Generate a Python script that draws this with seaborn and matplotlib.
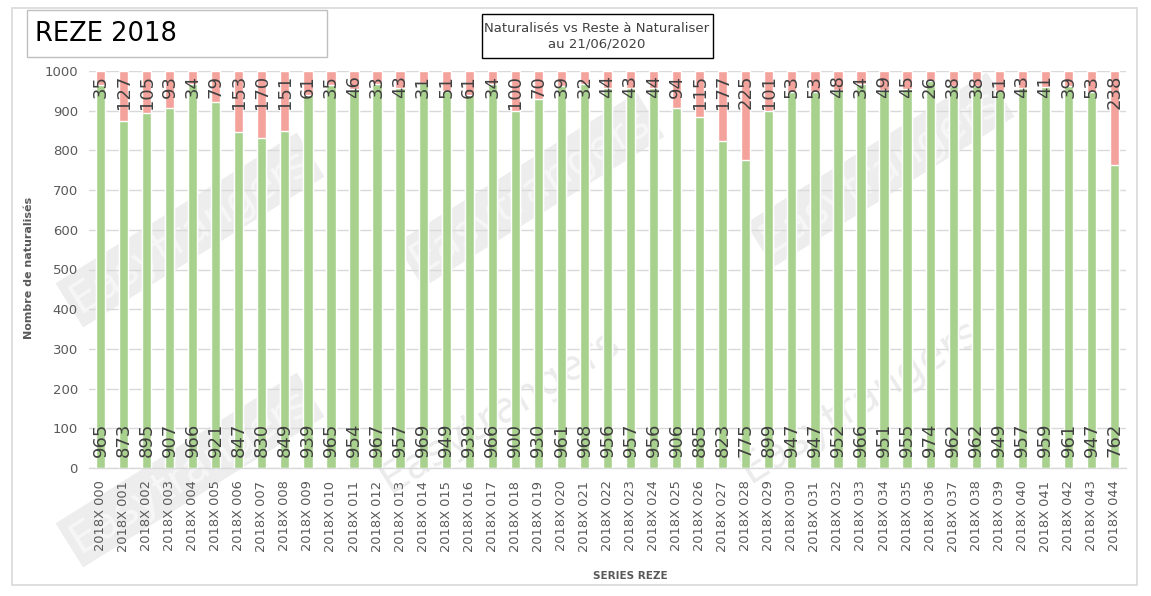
import matplotlib
matplotlib.use("Agg")
import matplotlib.pyplot as plt
import seaborn as sns
import numpy as np
import pandas as pd
from matplotlib.patches import Rectangle

categories = ["2018X %03d" % i for i in range(45)]
naturalises = [965, 873, 895, 907, 966, 921, 847, 830, 849, 939,
               965, 954, 967, 957, 969, 949, 939, 966, 900, 930,
               961, 968, 956, 957, 956, 906, 885, 823, 775, 899,
               947, 947, 952, 966, 951, 955, 974, 962, 962, 949,
               957, 959, 961, 947, 762]
reste = [35, 127, 105, 93, 34, 79, 153, 170, 151, 61,
         35, 46, 33, 43, 31, 51, 61, 34, 100, 70,
         39, 32, 44, 43, 44, 94, 115, 177, 225, 101,
         53, 53, 48, 34, 49, 45, 26, 38, 38, 51,
         43, 41, 39, 53, 238]
yticks = [0, 100, 200, 300, 400, 500, 600, 700, 800, 900, 1000]

df = pd.DataFrame({"serie": categories, "nat": naturalises, "reste": reste})
df["total"] = df["nat"] + df["reste"]

sns.set_theme(style="white")
plt.rcParams["font.family"] = ["DejaVu Sans"]

W, H = 1151, 596
fig = plt.figure(figsize=(W / 100, H / 100), dpi=100)
fig.patch.set_facecolor("white")

def fx(px):
    return px / W

def fy(py):
    return 1 - py / H

# outer frame
fig.patches.append(Rectangle((fx(12), fy(585)), fx(1137) - fx(12), fy(8) - fy(585),
                             transform=fig.transFigure, fill=False,
                             edgecolor="#D9D9D9", linewidth=1.2, zorder=0))

# faint watermarks
wm = [(190, 230, True), (530, 190, True), (880, 170, True),
      (190, 470, True), (500, 410, False), (860, 400, False)]
for (x, y, boxed) in wm:
    if boxed:
        fig.text(fx(x), fy(y), "Easytrangers", rotation=32, fontsize=30,
                 color="#F7F7F7", ha="center", va="center", zorder=0,
                 bbox=dict(boxstyle="square,pad=0.12", facecolor="#EDEDED",
                           edgecolor="none"))
    else:
        fig.text(fx(x), fy(y), "Easytrangers", rotation=32, fontsize=30,
                 color="#EBEBEB", ha="center", va="center", zorder=0)

ax = fig.add_axes([fx(89), fy(468), fx(1126) - fx(89), fy(71) - fy(468)])
ax.set_facecolor("none")
ax.set_zorder(2)

sns.barplot(data=df, x="serie", y="total", color="#F4A29C", width=0.4,
            saturation=1, ax=ax, zorder=3)
sns.barplot(data=df, x="serie", y="nat", color="#A9D18E", width=0.4,
            saturation=1, ax=ax, zorder=4)

ax.set_xlim(-0.5, len(categories) - 0.5)
ax.set_ylim(0, 1000)
ax.set_yticks(yticks)
ax.set_yticklabels([str(v) for v in yticks], fontsize=9.5, color="#595959")
ax.yaxis.grid(True, color="#D9D9D9", linewidth=1)
ax.set_axisbelow(True)
for s in ["top", "right", "left"]:
    ax.spines[s].set_visible(False)
ax.spines["bottom"].set_color("#D9D9D9")
ax.spines["bottom"].set_linewidth(1)
ax.tick_params(axis="y", length=0, pad=8)
ax.set_xticks(range(len(categories)))
ax.set_xticklabels(categories, rotation=90, fontsize=9.4, color="#595959")
ax.tick_params(axis="x", length=0, pad=9)
ax.set_xticks(np.arange(-0.5, len(categories), 1), minor=True)
ax.tick_params(axis="x", which="minor", length=5, color="#D9D9D9", width=1)

for i, (n, r) in enumerate(zip(naturalises, reste)):
    ax.text(i, n + r - 10, str(r), rotation=90, ha="center", va="top",
            fontsize=13, color="#404040", zorder=6)
    ax.text(i, 28, str(n), rotation=90, ha="center", va="bottom",
            fontsize=13, color="#404040", zorder=6)

ax.set_xlabel("SERIES REZE", fontsize=7.5, fontweight="bold", color="#595959")
ax.set_ylabel("Nombre de naturalisés", fontsize=8, fontweight="bold",
              color="#595959")
ax.xaxis.set_label_coords((fx(630) - fx(89)) / (fx(1126) - fx(89)),
                          (fy(571) - fy(468)) / (fy(71) - fy(468)))
ax.yaxis.set_label_coords((fx(34) - fx(89)) / (fx(1126) - fx(89)),
                          (fy(268) - fy(468)) / (fy(71) - fy(468)))

# title boxes
fig.patches.append(Rectangle((fx(27), fy(57)), fx(327) - fx(27), fy(10) - fy(57),
                             transform=fig.transFigure, facecolor="white",
                             edgecolor="#BFBFBF", linewidth=1, zorder=5))
fig.text(fx(35), fy(34), "REZE 2018", fontsize=18.5, color="black",
         ha="left", va="center", zorder=6)
fig.patches.append(Rectangle((fx(482), fy(58)), fx(713) - fx(482), fy(14) - fy(58),
                             transform=fig.transFigure, facecolor="white",
                             edgecolor="black", linewidth=1, zorder=5))
fig.text(fx(597), fy(36), "Naturalisés vs Reste à Naturaliser\nau 21/06/2020",
         fontsize=9.5, color="#404040", ha="center", va="center",
         linespacing=1.3, zorder=6)

fig.savefig("out.png", dpi=100, facecolor="white")
